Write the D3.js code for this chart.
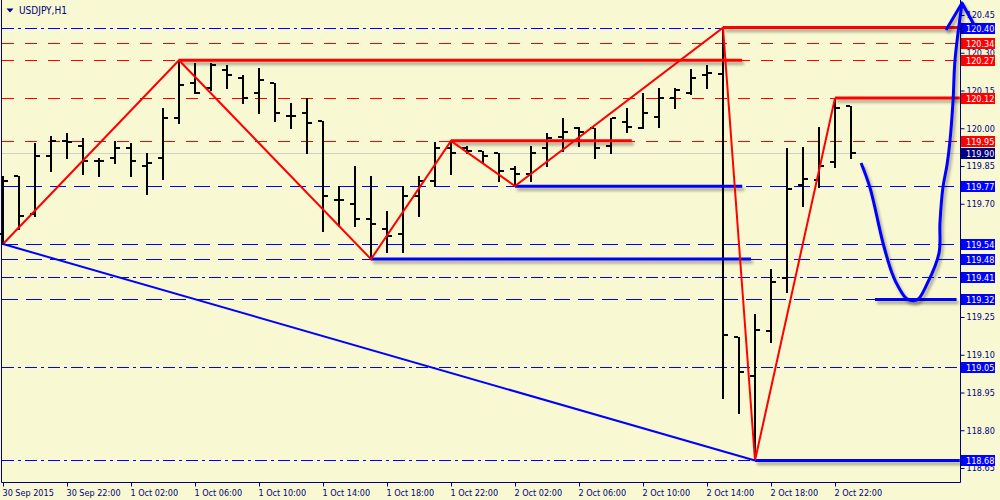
<!DOCTYPE html>
<html><head><meta charset="utf-8">
<script src="https://cdn.jsdelivr.net/npm/d3@7"></script>
<style>
html,body{margin:0;padding:0;background:#F8F8D2;}
svg{display:block;}
text{font-family:"DejaVu Sans Condensed","DejaVu Sans",sans-serif;font-stretch:condensed;font-size:9px;}
</style></head><body>
<svg id="c" width="1000" height="500"></svg>
<script>
// ---- data ----
const symbolTitle = "USDJPY,H1";
const tickBars = [0,4,8,12,16,20,24,28,32,36,40,44,48,52];
const tickLabels = ["30 Sep 2015","30 Sep 22:00","1 Oct 02:00","1 Oct 06:00","1 Oct 10:00","1 Oct 14:00","1 Oct 18:00","1 Oct 22:00","2 Oct 02:00","2 Oct 06:00","2 Oct 10:00","2 Oct 14:00","2 Oct 18:00","2 Oct 22:00"];
const priceTicks = [120.45,120.30,120.15,120.00,119.85,119.70,119.55,119.40,119.25,119.10,118.95,118.80,118.65];
const hiddenTickLabels = [119.55,119.40];

const openP  = [119.58,119.81,119.66,119.89,119.95,119.93,119.87,119.88,119.92,119.85,119.88,120.04,120.18,120.16,120.23,120.20,120.14,120.18,120.05,120.06,120.03,119.715,119.70,119.64,119.60,119.58,119.73,119.79,119.92,119.92,119.91,119.90,119.84,119.82,119.92,119.965,120.00,120.00,119.93,120.025,120.00,120.045,120.12,120.14,120.21,120.215,119.17,119.015,119.195,119.405,119.775,119.795,119.865,120.09];
const highP  = [119.81,119.81,119.94,119.97,119.98,119.96,119.88,119.95,119.94,119.90,120.08,120.27,120.26,120.26,120.25,120.21,120.24,120.18,120.10,120.12,120.03,119.77,119.85,119.81,119.67,119.77,119.81,119.945,119.95,119.93,119.91,119.90,119.85,119.93,119.98,120.04,120.005,120.00,120.04,120.08,120.14,120.16,120.16,120.235,120.25,120.40,119.17,119.26,119.44,119.92,119.925,120.005,120.12,120.09];
const lowP   = [119.54,119.60,119.65,119.83,119.88,119.82,119.81,119.86,119.81,119.74,119.80,120.02,120.14,120.15,120.16,120.10,120.06,120.03,120.00,119.90,119.59,119.61,119.61,119.48,119.51,119.51,119.65,119.77,119.82,119.90,119.86,119.79,119.77,119.79,119.85,119.91,119.93,119.88,119.90,119.985,120.00,120.005,120.08,120.135,120.16,118.93,118.87,118.68,119.15,119.35,119.69,119.765,119.845,119.88];
const closeP = [119.79,119.65,119.89,119.95,119.945,119.87,119.87,119.92,119.87,119.86,120.04,120.17,120.14,120.25,120.21,120.12,120.19,120.06,120.05,120.02,119.73,119.715,119.64,119.62,119.57,119.73,119.79,119.92,119.90,119.91,119.89,119.83,119.82,119.90,119.96,119.985,119.985,119.92,120.04,120.005,120.06,120.12,120.15,120.20,120.22,119.18,119.03,119.20,119.39,119.76,119.80,119.85,120.08,119.90];

const redLevels = [120.34,120.27,120.12,119.95];
const blueDashLevels = [119.77,119.54,119.48,119.32];
const blueDashDotLevels = [120.40,119.41,119.05,118.68];
const currentPrice = 119.90;

const redBoxLevels = [120.34,120.27,120.12,119.95];
const blueBoxLevels = [120.40,119.77,119.54,119.48,119.41,119.32,119.05,118.68];

// thick segments: [fromBar, toBar, price]
const redSegments = [[11,46.2,120.27],[28,39.3,119.95],[45,59.8,120.40],[52,59.8,120.12]];
const blueSegments = [[32,46.2,119.77],[23,46.75,119.48],[47,59.8,118.68],[54.5,59.6,119.32]];

const zigzagBars = [0,11,23,28,32,45,47,52];
const zigzagPrices = [119.54,120.27,119.48,119.95,119.77,120.40,118.68,120.12];
const trendBars = [0,47];
const trendPrices = [119.54,118.68];

const curveBars = [53.63,54.19,55.0,55.56,56.0,56.5,57.13,57.75,58.5,58.56,58.75,59.0,59.19,59.38,59.5,59.94];
const curvePrices = [119.862,119.763,119.544,119.425,119.365,119.322,119.318,119.381,119.504,119.624,119.767,119.854,119.953,120.112,120.271,120.498];
const arrowBars = [58.94,59.94,60.7];
const arrowPrices = [120.39,120.498,120.41];

// ---- chart ----
const navy = "#000080";
const fontFam = "DejaVu Sans Condensed, DejaVu Sans, sans-serif";
const svg = d3.select("#c");
const x = d3.scaleLinear().domain([0,1]).range([3,19]);
const y = d3.scaleLinear().domain([118.65,120.45]).range([468,15]);
const plotL = 1.5, plotR = 960.5, plotB = 482.5;
const py = p => Math.round(y(p)) + 0.5;

const defs = svg.append("defs");
const f = defs.append("filter").attr("id","sh").attr("x","-10%").attr("y","-50%").attr("width","130%").attr("height","300%");
f.append("feDropShadow").attr("dx",2).attr("dy",3).attr("stdDeviation",1.8).attr("flood-color","#000").attr("flood-opacity",0.35);

svg.append("rect").attr("width",1000).attr("height",500).attr("fill","#F8F8D2");

// level lines
const lv = svg.append("g").attr("shape-rendering","crispEdges");
lv.selectAll(".rl").data(redLevels).join("line")
  .attr("x1",plotL).attr("x2",plotR).attr("y1",py).attr("y2",py)
  .attr("stroke","#ff0000").attr("stroke-dasharray","12,11");
lv.selectAll(".bl").data(blueDashLevels).join("line")
  .attr("x1",plotL).attr("x2",plotR).attr("y1",py).attr("y2",py)
  .attr("stroke","#0000ff").attr("stroke-dasharray","16,8");
lv.selectAll(".bd").data(blueDashDotLevels).join("line")
  .attr("x1",plotL).attr("x2",plotR).attr("y1",py).attr("y2",py)
  .attr("stroke","#0000ff").attr("stroke-dasharray","12,4,3,4");
lv.append("line").attr("x1",plotL).attr("x2",plotR).attr("y1",py(currentPrice)).attr("y2",py(currentPrice))
  .attr("stroke","#d0d0d0");

// frame
svg.append("path").attr("d",`M${plotL},0V${plotB}H${plotR}V0`).attr("fill","none").attr("stroke",navy);

// bars
const idx = d3.range(openP.length);
const bars = svg.append("g").attr("fill","#000");
idx.forEach(i => {
  const cx = Math.round(x(i));
  const yh = Math.round(y(highP[i])), yl = Math.round(y(lowP[i]));
  bars.append("rect").attr("x",cx-1).attr("y",yh).attr("width",2).attr("height",Math.max(2,yl-yh+1));
  bars.append("rect").attr("x",cx-5).attr("y",Math.round(y(openP[i]))-1).attr("width",4).attr("height",2);
  bars.append("rect").attr("x",cx+1).attr("y",Math.round(y(closeP[i]))-1).attr("width",4).attr("height",2);
});

// thick segments with shadow
const seg = svg.append("g").attr("filter","url(#sh)");
seg.selectAll(".rs").data(redSegments).join("line")
  .attr("x1",d=>x(d[0])).attr("x2",d=>x(d[1])).attr("y1",d=>y(d[2])).attr("y2",d=>y(d[2]))
  .attr("stroke","#ff0000").attr("stroke-width",3);
seg.selectAll(".bs").data(blueSegments).join("line")
  .attr("x1",d=>x(d[0])).attr("x2",d=>x(d[1])).attr("y1",d=>y(d[2])).attr("y2",d=>y(d[2]))
  .attr("stroke","#0000ff").attr("stroke-width",3);

// zigzag + trend
const ln = d3.line().x(d=>x(d[0])).y(d=>y(d[1]));
svg.append("path").attr("d",ln(zigzagBars.map((b,i)=>[b,zigzagPrices[i]])))
  .attr("fill","none").attr("stroke","#ff0000").attr("stroke-width",2);
svg.append("path").attr("d",ln(trendBars.map((b,i)=>[b,trendPrices[i]])))
  .attr("fill","none").attr("stroke","#0000ff").attr("stroke-width",2);

// right axis
const ra = svg.append("g").attr("transform",`translate(${plotR},0)`)
  .call(d3.axisRight(y).tickValues(priceTicks).tickSize(4).tickPadding(2)
    .tickFormat(d => hiddenTickLabels.includes(d) ? "" : d3.format(".2f")(d)));
ra.select(".domain").remove();
ra.selectAll("line").attr("stroke",navy);
ra.selectAll("text").attr("fill",navy).style("font-size","9px").style("font-family",fontFam).style("font-stretch","condensed");

// bottom axis
const ba = svg.append("g").attr("transform",`translate(0,${plotB})`)
  .call(d3.axisBottom(x).tickValues(tickBars).tickSize(4).tickPadding(3).tickFormat((d,i)=>tickLabels[i]));
ba.select(".domain").remove();
ba.selectAll("line").attr("stroke",navy);
ba.selectAll("text").attr("fill",navy).attr("text-anchor","start").attr("dx","-1")
  .style("font-size","9px").style("font-family",fontFam).style("font-stretch","condensed");

// level boxes
function boxes(levels, fill){
  const g = svg.append("g");
  levels.forEach(p=>{
    const cy = Math.round(y(p));
    g.append("rect").attr("x",961).attr("y",cy-5).attr("width",34).attr("height",11).attr("fill",fill);
    g.append("text").attr("x",966).attr("y",cy+3.5).attr("fill","#fff").text(p.toFixed(2));
  });
}
boxes(redBoxLevels,"#ff0000");
boxes(blueBoxLevels,"#0000ff");
boxes([currentPrice],"#000080");

// title
svg.append("path").attr("d","M6.5,8.5H13.5L10,12.5Z").attr("fill",navy);
svg.append("text").attr("x",19).attr("y",14).attr("fill",navy).style("font-size","10px").text(symbolTitle);

// freehand curve with arrow
const cg = svg.append("g").attr("filter","url(#sh)");
cg.append("path").attr("d",d3.line().x(d=>x(d[0])).y(d=>y(d[1])).curve(d3.curveCatmullRom)(curveBars.map((b,i)=>[b,curvePrices[i]])))
  .attr("fill","none").attr("stroke","#0000ff").attr("stroke-width",3).attr("stroke-linejoin","round");
cg.append("path").attr("d",ln(arrowBars.map((b,i)=>[b,arrowPrices[i]])))
  .attr("fill","none").attr("stroke","#0000ff").attr("stroke-width",3).attr("stroke-linejoin","round");
</script>
</body></html>
